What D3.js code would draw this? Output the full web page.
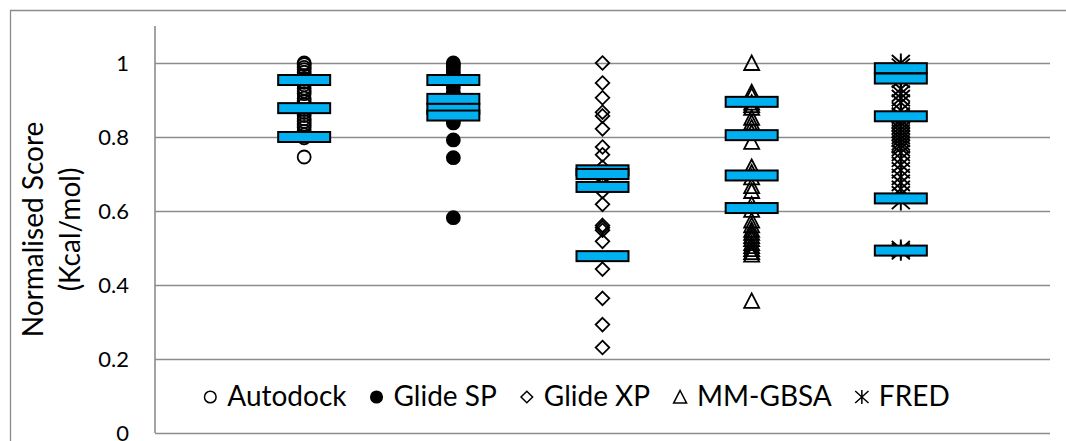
<!DOCTYPE html>
<html>
<head>
<meta charset="utf-8">
<script src="https://cdn.jsdelivr.net/npm/d3@7"></script>
<style>
  html, body { margin: 0; padding: 0; background: #fff; overflow: hidden; }
  text { font-family: Lato, "Open Sans", "Liberation Sans", sans-serif; fill: #000; }
</style>
</head>
<body>
<svg id="chart" width="1066" height="441"></svg>
<script>
// Docking methods, in plotting order
const methods = ["Autodock", "Glide SP", "Glide XP", "MM-GBSA", "FRED"];

// Normalised scores of the individual ligands for each method
const autodockScores = [1.0, 0.996, 0.988, 0.982, 0.975, 0.966, 0.957, 0.948, 0.941, 0.932, 0.924, 0.917,
  0.905, 0.896, 0.887, 0.874, 0.866, 0.858, 0.849, 0.842, 0.834, 0.826, 0.815, 0.806, 0.798, 0.746];
const glideSPScores = [1.0, 0.995, 0.989, 0.981, 0.972, 0.963, 0.951, 0.944, 0.933, 0.921, 0.914, 0.902,
  0.893, 0.884, 0.872, 0.863, 0.851, 0.843, 0.838, 0.792, 0.744, 0.582];
const glideXPScores = [1.0, 0.946, 0.906, 0.867, 0.857, 0.822, 0.773, 0.752, 0.718, 0.703, 0.688, 0.672,
  0.653, 0.618, 0.561, 0.555, 0.548, 0.518, 0.443, 0.364, 0.293, 0.231];
const mmgbsaScores = [1.0, 0.921, 0.912, 0.893, 0.886, 0.879, 0.852, 0.839, 0.826, 0.812, 0.787, 0.719,
  0.704, 0.691, 0.667, 0.654, 0.618, 0.603, 0.574, 0.561, 0.549, 0.541, 0.532, 0.524, 0.513, 0.505,
  0.497, 0.489, 0.482, 0.357];
const fredScores = [1.0, 0.99, 0.978, 0.966, 0.955, 0.93, 0.917, 0.905, 0.893, 0.872, 0.858, 0.846,
  0.838, 0.829, 0.82, 0.812, 0.803, 0.795, 0.786, 0.778, 0.77, 0.757, 0.741, 0.725, 0.71, 0.692,
  0.676, 0.66, 0.645, 0.627, 0.497, 0.491];

// Highlighted score levels (blue bars) for each method
const autodockBars = [0.954, 0.878, 0.800];
const glideSPBars = [0.954, 0.903, 0.876, 0.858];
const glideXPBars = [0.710, 0.700, 0.665, 0.478];
const mmgbsaBars = [0.895, 0.805, 0.696, 0.608];
const fredBars = [0.986, 0.958, 0.856, 0.634, 0.493];

// Y axis tick values
const yTicks = [0, 0.2, 0.4, 0.6, 0.8, 1];

const scoreSets = [autodockScores, glideSPScores, glideXPScores, mmgbsaScores, fredScores];
const barSets = [autodockBars, glideSPBars, glideXPBars, mmgbsaBars, fredBars];
const markerKinds = ["circle", "dot", "diamond", "triangle", "star"];

const svg = d3.select("#chart");
const plot = { left: 155, right: 1050, top: 26, bottom: 433 };

const x = d3.scaleLinear().domain([0, methods.length + 1]).range([plot.left, plot.right]);
const y = d3.scaleLinear().domain([0, 1.1]).range([plot.bottom, plot.top]);

// Outer chart frame (continues past the visible area on the right and bottom)
svg.append("path")
  .attr("d", "M10.5,460V10.5H1080")
  .attr("fill", "none")
  .attr("stroke", "#8c8c8c")
  .attr("stroke-width", 1.3);

// Y axis with gridlines
const yAxis = d3.axisLeft(y)
  .tickValues(yTicks)
  .tickSize(-(plot.right - plot.left))
  .tickPadding(26)
  .tickFormat(d => String(d));

const gAxis = svg.append("g")
  .attr("transform", `translate(${plot.left},0)`)
  .call(yAxis);
gAxis.select(".domain").remove();
gAxis.selectAll(".tick line")
  .attr("stroke", "#8c8c8c")
  .attr("stroke-width", 1.6);
gAxis.selectAll(".tick text")
  .style("font-family", "Lato, 'Open Sans', sans-serif")
  .attr("font-size", 22)
  .attr("fill", "#000");

svg.append("line")
  .attr("x1", plot.left).attr("x2", plot.left)
  .attr("y1", plot.top).attr("y2", plot.bottom)
  .attr("stroke", "#8c8c8c")
  .attr("stroke-width", 1.6);

// Axis title, two lines rotated
const title = [["Normalised Score", 43], ["(Kcal/mol)", 80]];
svg.selectAll("text.ytitle")
  .data(title)
  .join("text")
  .attr("class", "ytitle")
  .attr("transform", d => `translate(${d[1]},${(plot.top + plot.bottom) / 2}) rotate(-90)`)
  .attr("text-anchor", "middle")
  .attr("font-size", 28)
  .text(d => d[0]);

// Marker path generators
function markerPath(kind, s) {
  // s: half-size of the marker box
  switch (kind) {
    case "circle":
    case "dot":
      return d3.symbol(d3.symbolCircle, Math.PI * s * s)();
    case "diamond":
      return `M0,${-s}L${s},0L0,${s}L${-s},0Z`;
    case "triangle":
      return `M0,${-s}L${s},${s * 0.93}L${-s},${s * 0.93}Z`;
    case "star":
      return `M${-s * 0.95},${-s * 0.85}L${s * 0.95},${s * 0.85}M${s * 0.95},${-s * 0.85}L${-s * 0.95},${s * 0.85}M0,${-s}L0,${s}`;
  }
}

function styleMarker(sel, kind) {
  sel.attr("fill", kind === "dot" ? "#000" : "none")
    .attr("stroke", "#000")
    .attr("stroke-width", kind === "star" ? 1.9 : 1.8)
    .attr("stroke-linejoin", "miter");
}

// Ligand score markers
methods.forEach((m, i) => {
  const kind = markerKinds[i];
  const size = kind === "star" ? 9.5 : kind === "triangle" ? 7.5 : kind === "diamond" ? 6.8 : 6.5;
  const g = svg.append("g").attr("class", "series");
  g.selectAll("path")
    .data(scoreSets[i])
    .join("path")
    .attr("transform", d => `translate(${x(i + 1)},${y(d)})`)
    .attr("d", markerPath(kind, size))
    .call(styleMarker, kind);
});

// Blue score-level bars drawn over the markers
const barW = 52, barH = 10;
methods.forEach((m, i) => {
  svg.append("g").selectAll("rect")
    .data(barSets[i])
    .join("rect")
    .attr("x", x(i + 1) - barW / 2)
    .attr("y", d => y(d) - barH / 2)
    .attr("width", barW)
    .attr("height", barH)
    .attr("fill", "#00B0F0")
    .attr("stroke", "#000")
    .attr("stroke-width", 2);
});

// Legend, laid out from the measured label widths
const legendY = 406, legendCenter = 592;
const gap1 = 17, gap2 = 30, markerHalf = 6;
const legend = svg.append("g").attr("class", "legend");
const items = methods.map((m, i) => {
  const g = legend.append("g");
  const t = g.append("text")
    .attr("font-size", 28)
    .attr("y", legendY)
    .text(m);
  return { g, t, w: t.node().getComputedTextLength(), kind: markerKinds[i] };
});
const total = d3.sum(items, d => markerHalf + gap1 + d.w) + gap2 * (items.length - 1) + markerHalf;
let cursor = legendCenter - total / 2 + markerHalf;
items.forEach(it => {
  const s = it.kind === "star" ? 7 : it.kind === "triangle" ? 6.5 : 5.8;
  it.g.append("path")
    .attr("transform", `translate(${cursor},${legendY - 9})`)
    .attr("d", markerPath(it.kind, s))
    .call(styleMarker, it.kind)
    .attr("stroke-width", 1.5);
  it.t.attr("x", cursor + gap1);
  cursor += gap1 + it.w + gap2;
});
</script>
</body>
</html>
